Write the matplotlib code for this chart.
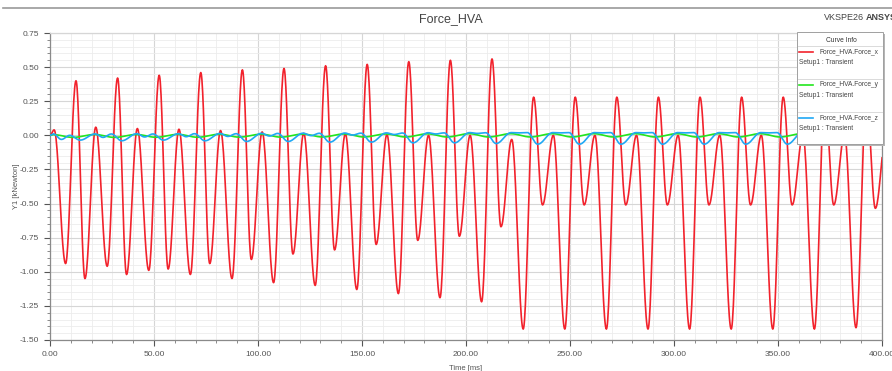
import numpy as np
import matplotlib
matplotlib.use("Agg")
import matplotlib.pyplot as plt
from matplotlib.patches import Rectangle
from matplotlib.lines import Line2D

plt.rcParams['font.family'] = ['Liberation Sans', 'DejaVu Sans']

# one 20 ms electrical period per entry (k = 0..19)
periodo = 20.0
fase_red = [2.0, 7.5, 12.5, 16.8]   # small peak, first trough, big peak, second trough
red_small = [0.04, 0.06, 0.05, 0.045, 0.035, 0.025, 0.015, 0.01, 0.005, 0.0,
             0.0, -0.03, 0.0, 0.0, 0.0, 0.0, 0.0, 0.0, 0.0, 0.0]
red_minA = [-0.94, -0.96, -0.99, -1.02, -1.05, -1.08, -1.10, -1.13, -1.16, -1.19,
            -1.22, -1.42, -1.42, -1.42, -1.42, -1.42, -1.42, -1.42, -1.42, -1.41]
red_peak = [0.40, 0.42, 0.44, 0.46, 0.48, 0.49, 0.51, 0.52, 0.54, 0.55,
            0.56, 0.28, 0.28, 0.28, 0.28, 0.28, 0.28, 0.28, 0.28, 0.28]
red_minB = [-1.05, -1.02, -0.98, -0.94, -0.91, -0.87, -0.84, -0.80, -0.77, -0.74,
            -0.67, -0.51, -0.51, -0.51, -0.51, -0.51, -0.51, -0.51, -0.51, -0.535]
red_last = 0.0

fase_green = [1.5, 11.0]
green_high = [0.005, 0.006, 0.006, 0.007, 0.008, 0.008, 0.009, 0.010, 0.010, 0.011,
              0.012, 0.012, 0.012, 0.012, 0.012, 0.012, 0.012, 0.012, 0.012, 0.012]
green_low = [-0.015, -0.015, -0.014, -0.014, -0.013, -0.013, -0.012, -0.012, -0.012, -0.012,
             -0.012, -0.012, -0.012, -0.012, -0.012, -0.012, -0.012, -0.012, -0.012, -0.012]

fase_blue = [1.7, 5.5, 9.5, 14.5]   # peak, shallow dip, peak, deep dip
blue_peak1 = [0.0, 0.01, 0.01, 0.012, 0.012, 0.014, 0.015, 0.016, 0.017, 0.018,
              0.019, 0.02, 0.02, 0.02, 0.02, 0.02, 0.02, 0.02, 0.02, 0.02]
blue_shallow = [-0.03, -0.015, -0.012, -0.01, -0.008, -0.005, -0.002, 0.002, 0.006, 0.01,
                0.014, 0.018, 0.018, 0.018, 0.018, 0.018, 0.018, 0.018, 0.018, 0.018]
blue_peak2 = [0.01, 0.01, 0.012, 0.012, 0.014, 0.015, 0.016, 0.017, 0.018, 0.019,
              0.02, 0.02, 0.02, 0.02, 0.02, 0.02, 0.02, 0.02, 0.02, 0.02]
blue_deep = [-0.035, -0.04, -0.035, -0.04, -0.045, -0.045, -0.05, -0.05, -0.055, -0.055,
             -0.06, -0.065, -0.065, -0.065, -0.065, -0.065, -0.065, -0.065, -0.065, -0.065]

x_ticks = [0, 50, 100, 150, 200, 250, 300, 350, 400]
y_ticks = [0.75, 0.50, 0.25, 0.00, -0.25, -0.50, -0.75, -1.00, -1.25, -1.50]


def curva(fases, series, final):
    # extrema in time order, joined by half-cosine arcs
    tt = [0.0]
    vv = [0.0]
    for k in range(len(series[0])):
        for f, s in zip(fases, series):
            tt.append(k * periodo + f)
            vv.append(s[k])
    tt.append(len(series[0]) * periodo + fases[0])
    vv.append(final)
    t_out = []
    v_out = []
    for i in range(len(tt) - 1):
        u = np.linspace(0, 1, 25)
        t_out.append(tt[i] + (tt[i + 1] - tt[i]) * u)
        v_out.append(vv[i] + (vv[i + 1] - vv[i]) * (1 - np.cos(np.pi * u)) / 2)
    return np.concatenate(t_out), np.concatenate(v_out)


t_r, f_x = curva(fase_red, [red_small, red_minA, red_peak, red_minB], red_last)
t_g, f_y = curva(fase_green, [green_high, green_low], 0.012)
t_b, f_z = curva(fase_blue, [blue_peak2, blue_shallow, blue_peak1, blue_deep], 0.02)

fig = plt.figure(figsize=(8.92, 3.71), dpi=100)
ax = fig.add_axes([50 / 892, 1 - 340 / 371, 832 / 892, 307 / 371])

rojo = '#f2222c'
verde = '#22e61e'
azul = '#1fa8f5'
ax.plot(t_r, f_x, color=rojo, lw=1.2, zorder=3)
ax.plot(t_g, f_y, color=verde, lw=1.2, zorder=4)
ax.plot(t_b, f_z, color=azul, lw=1.2, zorder=5)

ax.set_xlim(0, 400)
ax.set_ylim(-1.5, 0.75)
ax.set_xticks(x_ticks)
ax.set_xticklabels([f"{v:.2f}" for v in x_ticks])
ax.set_yticks(y_ticks)
ax.set_yticklabels([f"{v:.2f}" for v in y_ticks])
ax.set_xticks(np.arange(0, 401, 10), minor=True)
ax.set_yticks(np.arange(-1.5, 0.751, 0.05), minor=True)
ax.tick_params(labelsize=6, colors='#555555', length=4, width=0.8, direction='out', pad=4)
ax.tick_params(which='minor', length=2, width=0.6, colors='#777777')
ax.grid(True, which='major', color='#d6d6d6', lw=0.8)
ax.grid(True, which='minor', color='#ececec', lw=0.6)
ax.set_axisbelow(True)
for lado in ['left', 'bottom', 'right', 'top']:
    ax.spines[lado].set_color('#8a8a8a')
    ax.spines[lado].set_linewidth(0.9)
ax.spines['top'].set_color('#d6d6d6')

ax.set_xlabel('Time [ms]', fontsize=5.5, color='#555555', labelpad=5)
ax.set_ylabel('Y1 [kNewton]', fontsize=5.5, color='#555555', labelpad=0)

# header
fig.add_artist(Line2D([3 / 892, 1], [1 - 8 / 371, 1 - 8 / 371], color='#9a9a9a', lw=1.2))
fig.text(451 / 892, 1 - 19 / 371, 'Force_HVA', ha='center', va='center',
         fontsize=9, color='#444444')
fig.text(824 / 892, 1 - 18 / 371, 'VKSPE26', ha='left', va='center',
         fontsize=6.5, color='#444444')
fig.text(866 / 892, 1 - 17 / 371, 'ANSYS', ha='left', va='center',
         fontsize=6.5, color='#444444', fontweight='bold')

# curve info box
def fx(p):
    return p / 892


def fy(p):
    return 1 - p / 371


fig.add_artist(Rectangle((fx(799), fy(146)), fx(86), 112 / 371, facecolor='#b5b5b5',
                         edgecolor='none', zorder=9))
fig.add_artist(Rectangle((fx(797), fy(143.5)), fx(85.5), 112 / 371, facecolor='white',
                         edgecolor='#a0a0a0', lw=0.7, zorder=10))
fig.text(fx(841), fy(40), 'Curve Info', ha='center', va='center', fontsize=4.8,
         color='#333333', zorder=11)
for ysep in [45.5, 78.5, 111.5]:
    fig.add_artist(Line2D([fx(797.5), fx(882)], [fy(ysep), fy(ysep)], color='#d4d4d4',
                          lw=0.6, zorder=11))
entradas = [('Force_HVA.Force_x', rojo), ('Force_HVA.Force_y', verde),
            ('Force_HVA.Force_z', azul)]
for i, (nombre, color) in enumerate(entradas):
    y0 = 52 + i * 33
    fig.add_artist(Line2D([fx(799), fx(813)], [fy(y0), fy(y0)], color=color, lw=1.2,
                          zorder=11))
    fig.text(fx(819), fy(y0), nombre, ha='left', va='center', fontsize=4.8,
             color='#444444', zorder=11)
    fig.text(fx(799), fy(y0 + 10.5), 'Setup1 : Transient', ha='left', va='center',
             fontsize=4.8, color='#444444', zorder=11)

fig.savefig('out.png', dpi=100)
